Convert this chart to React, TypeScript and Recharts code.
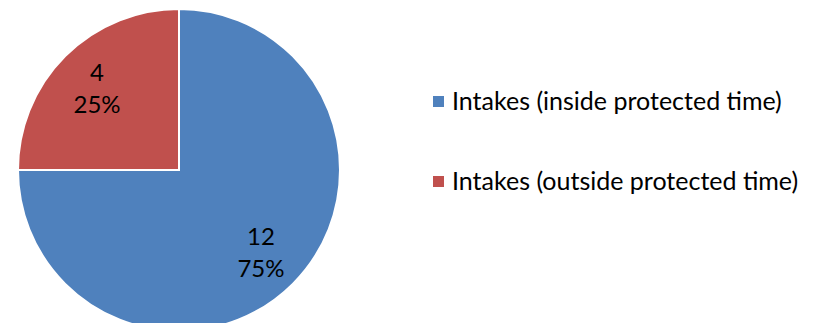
import { PieChart, Pie, Cell, Legend } from "recharts";

const categories = ["Intakes (inside protected time)", "Intakes (outside protected time)"];
const counts = [12, 4];
const COLORS = ["#4F81BD", "#C0504D"];

const data = categories.map((name, i) => ({ name, value: counts[i] }));
const total = counts.reduce((a, b) => a + b, 0);

const FONT = "Lato, 'Open Sans', sans-serif";
const RAD = Math.PI / 180;

function renderLabel(props: any) {
    const { cx, cy, midAngle, outerRadius, value } = props;
    const r = outerRadius * 0.72;
    const x = cx + r * Math.cos(-midAngle * RAD);
    const y = cy + r * Math.sin(-midAngle * RAD);
    const pct = Math.round((value / total) * 100);
    return (
        <text x={x} y={y} textAnchor="middle" fill="#000" fontSize={24} fontFamily={FONT}>
            <tspan x={x} dy={-7}>{value}</tspan>
            <tspan x={x} dy={32}>{pct}%</tspan>
        </text>
    );
}

function renderLegend(props: any) {
    const { payload } = props;
    return (
        <div style={{ fontFamily: FONT, fontSize: 25, color: "#000" }}>
            {payload.map((entry: any, i: number) => (
                <div key={`item-${i}`} style={{ display: "flex", alignItems: "center", height: 40, marginBottom: i === 0 ? 40 : 0 }}>
                    <span style={{ display: "inline-block", width: 11, height: 11, background: entry.color, marginRight: 8, marginTop: 3 }} />
                    <span>{entry.value}</span>
                </div>
            ))}
        </div>
    );
}

export default function App() {
    return (
        <div style={{ margin: -8, width: 819, height: 331, background: "#fff" }}>
            <PieChart width={819} height={331} margin={{ top: 0, right: 0, bottom: 0, left: 0 }}>
                <Pie
                    data={data}
                    dataKey="value"
                    nameKey="name"
                    cx={179}
                    cy={170}
                    outerRadius={161}
                    startAngle={90}
                    endAngle={-270}
                    stroke="#fff"
                    strokeWidth={2}
                    label={renderLabel}
                    labelLine={false}
                    isAnimationActive={false}
                >
                    {data.map((entry, index) => (
                        <Cell key={`cell-${index}`} fill={COLORS[index % COLORS.length]} />
                    ))}
                </Pie>
                <Legend
                    layout="vertical"
                    content={renderLegend}
                    wrapperStyle={{ left: 433, top: 80, width: 386 }}
                />
            </PieChart>
        </div>
    );
}
